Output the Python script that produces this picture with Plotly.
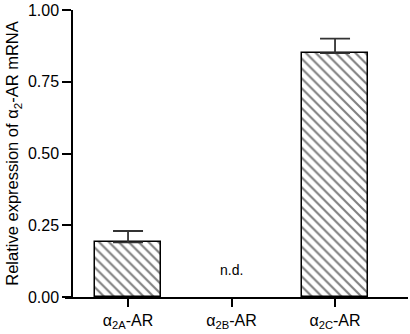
import plotly.graph_objects as go

categories = ["α<sub>2A</sub>-AR", "α<sub>2B</sub>-AR", "α<sub>2C</sub>-AR"]
values = [0.19, None, 0.85]
errors = [0.04, 0, 0.05]
y_ticks = [0.0, 0.25, 0.5, 0.75, 1.0]
y_tick_labels = ["0.00", "0.25", "0.50", "0.75", "1.00"]
nd_label = "n.d."
x_pos = [0, 1, 2]

FONT = "Liberation Sans, Arial, Helvetica, sans-serif"

fig = go.Figure()
fig.add_trace(go.Bar(
    x=x_pos,
    y=values,
    width=0.63,
    marker=dict(
        color="white",
        line=dict(color="black", width=1.5),
        pattern=dict(shape="\\", fgcolor="black", bgcolor="white", size=7, solidity=0.3),
    ),
    error_y=dict(type="data", array=errors, arrayminus=[0, 0, 0], symmetric=False,
                 color="#333333", thickness=1.8, width=15),
    showlegend=False,
))

fig.add_annotation(x=1, y=0.094, text=nd_label, showarrow=False,
                   font=dict(family=FONT, size=14, color="black"))

fig.update_layout(
    width=410, height=334,
    margin=dict(l=65, r=2, t=10, b=37),
    paper_bgcolor="white", plot_bgcolor="white",
    font=dict(family=FONT, size=15, color="black"),
    bargap=0,
    xaxis=dict(
        range=[-0.609, 2.705],
        tickmode="array", tickvals=x_pos, ticktext=categories,
        showline=True, linecolor="black", linewidth=1.5,
        ticks="outside", ticklen=8, tickwidth=1.5, tickcolor="black",
        showgrid=False, zeroline=False,
        tickfont=dict(family=FONT, size=16),
    ),
    yaxis=dict(
        range=[0, 1],
        anchor="free", position=0.0204,
        tickmode="array", tickvals=y_ticks, ticktext=y_tick_labels,
        showline=True, linecolor="black", linewidth=1.5,
        ticks="outside", ticklen=9, tickwidth=1.5, tickcolor="black",
        showgrid=False, zeroline=False,
        tickfont=dict(family=FONT, size=16),
        title=dict(text="Relative expression of α<sub>2</sub>-AR mRNA",
                   font=dict(family=FONT, size=16.5), standoff=4),
    ),
)

fig.write_html("out.html", config={"displayModeBar": False},
               post_script="document.body.style.margin='0';document.body.style.padding='0';")
